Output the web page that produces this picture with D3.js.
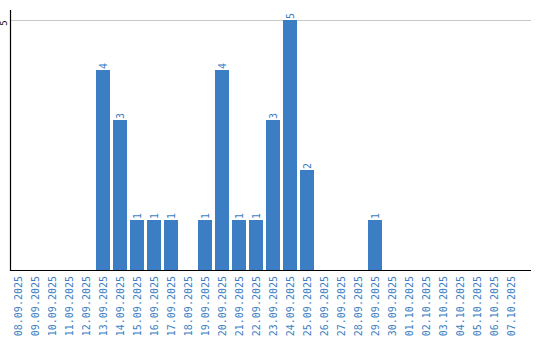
<!DOCTYPE html>
<html>
<head>
<meta charset="utf-8">
<script src="https://cdn.jsdelivr.net/npm/d3@7"></script>
<style>
  body { margin: 0; background: #fff; }
  text { font-family: "DejaVu Sans Mono", monospace; }
</style>
</head>
<body>
<div id="chart"></div>
<script>
// data
const dates = ["08.09.2025","09.09.2025","10.09.2025","11.09.2025","12.09.2025","13.09.2025",
  "14.09.2025","15.09.2025","16.09.2025","17.09.2025","18.09.2025","19.09.2025","20.09.2025",
  "21.09.2025","22.09.2025","23.09.2025","24.09.2025","25.09.2025","26.09.2025","27.09.2025",
  "28.09.2025","29.09.2025","30.09.2025","01.10.2025","02.10.2025","03.10.2025","04.10.2025",
  "05.10.2025","06.10.2025","07.10.2025"];
const counts = [0,0,0,0,0,4,3,1,1,1,0,1,4,1,1,3,5,2,0,0,0,1,0,0,0,0,0,0,0,0];
const yTicks = [5];

const blue = "#3b7ec3";
const W = 540, H = 340;

const svg = d3.select("#chart").append("svg")
  .attr("width", W).attr("height", H);

const x = d3.scaleBand()
  .domain(dates)
  .range([11, 518])
  .paddingInner(3 / 17)
  .paddingOuter(0);

const y = d3.scaleLinear()
  .domain([0, 5.2])
  .range([270, 10]);

// grid line
svg.append("g")
  .selectAll("line")
  .data(yTicks)
  .join("line")
  .attr("x1", 11).attr("x2", 531)
  .attr("y1", d => Math.round(y(d)) + 0.5)
  .attr("y2", d => Math.round(y(d)) + 0.5)
  .attr("stroke", "#c8c8c8");

// y tick labels (rotated)
svg.append("g")
  .selectAll("text")
  .data(yTicks)
  .join("text")
  .attr("transform", d => `translate(7,${y(d) + 3}) rotate(-90)`)
  .attr("text-anchor", "middle")
  .attr("font-size", 9)
  .attr("fill", "#000")
  .text(d => d);

// bars
const data = dates.map((d, i) => ({date: d, value: counts[i]}));
svg.append("g")
  .selectAll("rect")
  .data(data.filter(d => d.value > 0))
  .join("rect")
  .attr("x", d => x(d.date))
  .attr("y", d => y(d.value))
  .attr("width", x.bandwidth())
  .attr("height", d => y(0) - y(d.value))
  .attr("fill", blue)
  .attr("shape-rendering", "crispEdges");

// value labels
svg.append("g")
  .selectAll("text")
  .data(data.filter(d => d.value > 0))
  .join("text")
  .attr("transform", d => `translate(${x(d.date) + x.bandwidth() / 2 + 4},${y(d.value) - 1}) rotate(-90)`)
  .attr("text-anchor", "start")
  .attr("font-size", 10)
  .attr("fill", blue)
  .text(d => d.value);

// axes lines
svg.append("line")
  .attr("x1", 10.5).attr("x2", 10.5)
  .attr("y1", 10).attr("y2", 271)
  .attr("stroke", "#000").attr("stroke-width", 1.2);
svg.append("line")
  .attr("x1", 10).attr("x2", 531)
  .attr("y1", 270.5).attr("y2", 270.5)
  .attr("stroke", "#000").attr("stroke-width", 1.2);

// x tick labels
svg.append("g")
  .selectAll("text")
  .data(dates)
  .join("text")
  .attr("transform", d => `translate(${x(d) + x.bandwidth() / 2 + 3.5},276) rotate(-90)`)
  .attr("text-anchor", "end")
  .attr("font-size", 10)
  .attr("fill", blue)
  .text(d => d);
</script>
</body>
</html>
